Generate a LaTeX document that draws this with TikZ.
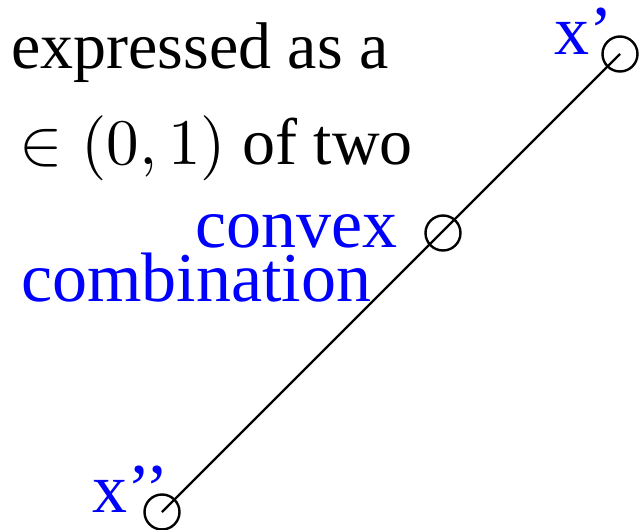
\documentclass[tikz,border=0pt]{standalone}
\usepackage{fontspec}
\setmainfont{Liberation Serif}
\begin{document}
\begin{tikzpicture}[x=1pt,y=-1pt,
  pt/.style={circle,draw=black,line width=2.4pt,minimum size=35pt,inner sep=0pt},
  txt/.style={inner sep=0pt,font=\fontsize{66}{80}\selectfont},
  lbl/.style={inner sep=0pt,text=blue,font=\fontsize{70}{84}\selectfont}]
\useasboundingbox (0,0) rectangle (641,530);
\node[txt,anchor=base west] (l1) at (11,68) {expressed as a};
\node[txt,anchor=base east] (l2) at (413,164) {{\normalsize\scalebox{6.5}{$z \in (0,1)$}} of two};
\node[lbl,anchor=base east] (cv) at (398,247) {convex};
\node[lbl,anchor=base west] (cb) at (21,301) {combination};
\node[lbl,anchor=base west] (xp) at (554,54) {x’};
\node[lbl,anchor=base west] (xpp) at (92,512) {x’’};
\coordinate (A) at (620,54);
\coordinate (B) at (443,233);
\coordinate (C) at (162,512);
\draw[line width=2.2pt] (C) -- (A);
\node[pt] (pa) at (A) {};
\node[pt] (pb) at (B) {};
\node[pt] (pc) at (C) {};
\end{tikzpicture}
\end{document}
